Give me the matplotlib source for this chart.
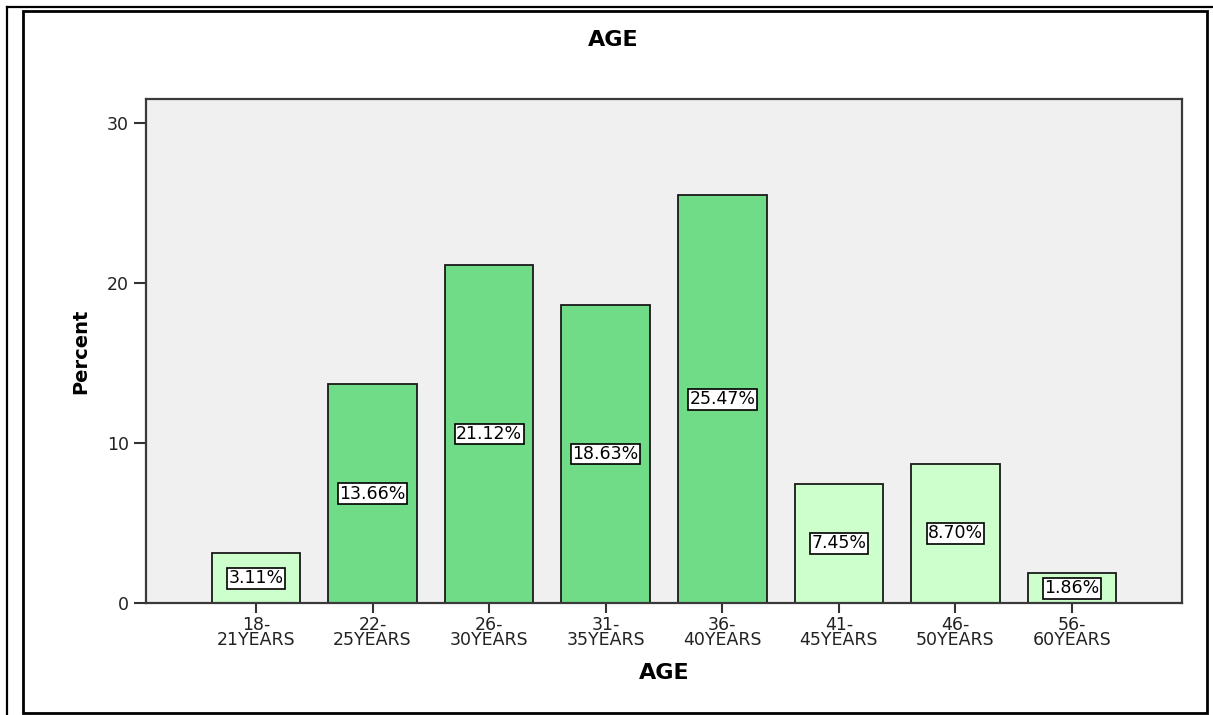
import numpy as np
import matplotlib
matplotlib.use("Agg")
import matplotlib.pyplot as plt
from matplotlib.patches import Rectangle
from matplotlib.lines import Line2D

matplotlib.rcParams['font.family'] = 'DejaVu Sans'

age_groups = ["18-\n21YEARS", "22-\n25YEARS", "26-\n30YEARS", "31-\n35YEARS",
              "36-\n40YEARS", "41-\n45YEARS", "46-\n50YEARS", "56-\n60YEARS"]
percent = [3.11, 13.66, 21.12, 18.63, 25.47, 7.45, 8.70, 1.86]
# groups shaded darker in the output
highlight = [False, True, True, True, True, False, False, False]

dark_green = "#70dc88"
light_green = "#ccffcc"

W, H = 1213, 715
fig = plt.figure(figsize=(W / 100, H / 100), dpi=100)

# frame lines round the chart
fig.add_artist(Line2D([7 / W, 7 / W], [0, 1 - 7 / H], color="black", lw=1.6))
fig.add_artist(Line2D([7 / W, 1], [1 - 7 / H, 1 - 7 / H], color="black", lw=1.6))
fig.add_artist(Rectangle((23 / W, 1 - 713 / H), (1207 - 23) / W, (713 - 11) / H,
                         transform=fig.transFigure, fill=False,
                         edgecolor="black", lw=2.0))

ax = fig.add_axes([146 / W, 1 - 603 / H, (1182 - 146) / W, (603 - 99) / H])
ax.set_facecolor("#f0f0f0")

x = np.arange(len(percent))
colors = [dark_green if h else light_green for h in highlight]
ax.bar(x, percent, width=0.76, color=colors, edgecolor="#1a1a1a", linewidth=1.3,
       zorder=2)

for xi, v in zip(x, percent):
    ax.text(xi, v / 2, f"{v:.2f}%", ha="center", va="center", fontsize=12.5,
            zorder=3,
            bbox=dict(boxstyle="square,pad=0.08", facecolor="white",
                      edgecolor="black", linewidth=1.2))

ax.set_xlim(-0.943, 7.943)
ax.set_ylim(0, 31.5)
ax.set_yticks([0, 10, 20, 30])
ax.set_xticks(x)
ax.set_xticklabels(age_groups, fontsize=12.5, linespacing=0.85)
ax.tick_params(axis="y", labelsize=12.5, length=9, width=1.5, color="#333333",
               labelcolor="#222222")
ax.tick_params(axis="x", length=7, width=1.5, color="#333333", pad=2,
               labelcolor="#222222")

for s in ax.spines.values():
    s.set_color("#3a3a3a")
    s.set_linewidth(1.6)

ax.set_xlabel("AGE", fontsize=16, fontweight="bold", labelpad=10)
ax.set_ylabel("Percent", fontsize=14, fontweight="bold", labelpad=12)
fig.text(613 / W, 1 - 40 / H, "AGE", ha="center", va="center", fontsize=16,
         fontweight="bold")

fig.savefig("out.png", dpi=100)
